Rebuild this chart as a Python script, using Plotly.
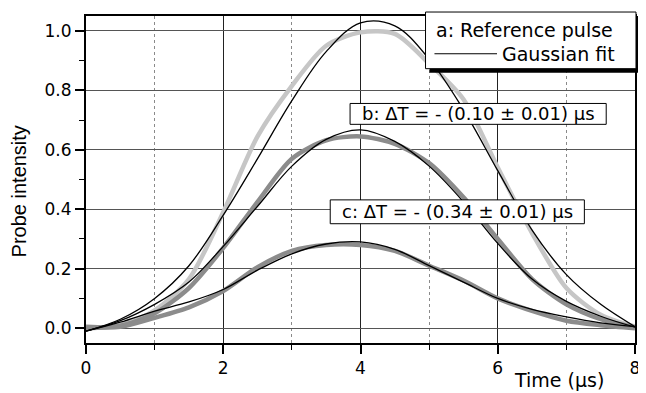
import plotly.graph_objects as go

# ---- data ----
time_us = [0, 0.5, 1.0, 1.5, 2.0, 2.5, 3.0, 3.5, 4.0, 4.5, 5.0, 5.5, 6.0, 6.5, 7.0, 7.5, 8.0]

pulse_a = [0.0, 0.01, 0.06, 0.165, 0.39, 0.645, 0.815, 0.95, 0.995, 0.99, 0.89, 0.77, 0.54, 0.32, 0.135, 0.045, 0.005]
pulse_b = [0.0, 0.008, 0.05, 0.135, 0.27, 0.425, 0.57, 0.632, 0.645, 0.62, 0.555, 0.44, 0.30, 0.165, 0.08, 0.03, 0.003]
pulse_c = [0.005, 0.005, 0.035, 0.07, 0.125, 0.205, 0.26, 0.28, 0.28, 0.26, 0.21, 0.16, 0.10, 0.058, 0.025, 0.01, 0.0]

fit_a = [-0.01, 0.03, 0.10, 0.21, 0.38, 0.57, 0.765, 0.93, 1.027, 1.017, 0.905, 0.735, 0.53, 0.33, 0.18, 0.08, 0.005]
fit_b = [-0.01, 0.025, 0.08, 0.155, 0.275, 0.41, 0.545, 0.635, 0.667, 0.628, 0.545, 0.425, 0.285, 0.165, 0.09, 0.04, 0.003]
fit_c = [-0.01, 0.02, 0.057, 0.088, 0.13, 0.195, 0.25, 0.283, 0.29, 0.265, 0.21, 0.155, 0.10, 0.063, 0.038, 0.018, 0.005]

x_ticks = [0, 2, 4, 6, 8]
y_ticks = [0.0, 0.2, 0.4, 0.6, 0.8, 1.0]
y_tick_text = ["0.0", "0.2", "0.4", "0.6", "0.8", "1.0"]

legend_a = "a: Reference pulse"
legend_fit = "Gaussian fit"
label_b = "b: \u0394T = - (0.10 \u00b1 0.01) \u03bcs"
label_c = "c: \u0394T = - (0.34 \u00b1 0.01) \u03bcs"
x_title = "Time (\u03bcs)"
y_title = "Probe intensity"

# ---- geometry: page pixels; the page body adds an 8px margin ----
OFF = 8
W, H = 646 - OFF, 393 - OFF
L, R, T, B = 86, 639, 14, 343   # plot area in page pixels


def px(x):
    return (x - L) / (R - L)


def py(y):
    return (B - y) / (B - T)


fig = go.Figure()

for ys, col in [(pulse_a, "#c6c6c6"), (pulse_b, "#8c8c8c"), (pulse_c, "#8c8c8c")]:
    fig.add_trace(go.Scatter(x=time_us, y=ys, mode="lines",
                             line=dict(color=col, width=4.5, shape="spline", smoothing=0.8),
                             showlegend=False, hoverinfo="skip"))

for ys in [fit_a, fit_b, fit_c]:
    fig.add_trace(go.Scatter(x=time_us, y=ys, mode="lines",
                             line=dict(color="black", width=1.3, shape="spline", smoothing=1.0),
                             showlegend=False, hoverinfo="skip"))

tickfont = dict(family="DejaVu Sans", size=17, color="black")

fig.update_xaxes(range=[0, 8], tickvals=x_ticks, ticktext=[str(v) for v in x_ticks],
                 ticks="outside", ticklen=9, tickwidth=1.5, tickcolor="black",
                 showline=True, linewidth=2, linecolor="black", mirror=True,
                 showgrid=True, gridcolor="#222222", gridwidth=1.2,
                 zeroline=False, tickfont=tickfont,
                 minor=dict(dtick=1, tick0=1, ticks="outside", ticklen=5, tickwidth=1.2,
                            tickcolor="black", showgrid=True, gridcolor="#8a8a8a",
                            griddash="dot", gridwidth=1))

fig.update_yaxes(range=[-0.05, 1.05], tickvals=y_ticks, ticktext=y_tick_text,
                 ticks="outside", ticklen=9, tickwidth=1.5, tickcolor="black",
                 showline=True, linewidth=2, linecolor="black", mirror=True,
                 showgrid=True, gridcolor="#555555", gridwidth=1,
                 zeroline=False, tickfont=tickfont,
                 minor=dict(tickvals=[0.1, 0.3, 0.5, 0.7, 0.9], ticks="outside", ticklen=5,
                            tickwidth=1.2, tickcolor="black", showgrid=False))

shapes = []
shapes.append(dict(type="rect", xref="paper", yref="paper",
                   x0=px(432), x1=px(644), y0=py(71), y1=py(14),
                   fillcolor="black", line=dict(width=0), layer="above"))
shapes.append(dict(type="rect", xref="paper", yref="paper",
                   x0=px(428), x1=px(640), y0=py(67), y1=py(10),
                   fillcolor="white", line=dict(color="black", width=1), layer="above"))
shapes.append(dict(type="line", xref="paper", yref="paper",
                   x0=px(437), x1=px(500), y0=py(52), y1=py(52),
                   line=dict(color="black", width=1.2), layer="above"))
shapes.append(dict(type="rect", xref="paper", yref="paper",
                   x0=px(352), x1=px(610), y0=py(123), y1=py(102),
                   fillcolor="white", line=dict(color="black", width=1), layer="above"))
shapes.append(dict(type="rect", xref="paper", yref="paper",
                   x0=px(332), x1=px(588), y0=py(223), y1=py(199),
                   fillcolor="white", line=dict(color="black", width=1), layer="above"))

boxfont = dict(family="DejaVu Sans", size=18, color="black")
legfont = dict(family="DejaVu Sans", size=19, color="black")

annotations = [
    dict(text=legend_a, x=px(437), y=py(28), xanchor="left", yanchor="middle", font=legfont),
    dict(text=legend_fit, x=px(503), y=py(52), xanchor="left", yanchor="middle", font=legfont),
    dict(text=label_b, x=px(481), y=py(112.5), xanchor="center", yanchor="middle", font=boxfont),
    dict(text=label_c, x=px(460), y=py(211), xanchor="center", yanchor="middle", font=boxfont),
    dict(text=x_title, x=px(562), y=py(380), xanchor="center", yanchor="middle",
         font=dict(family="DejaVu Sans", size=19, color="black")),
    dict(text=y_title, x=px(18), y=py(190), xanchor="center", yanchor="middle", textangle=-90,
         font=dict(family="Liberation Sans", size=20, color="black")),
]
for a in annotations:
    a.update(xref="paper", yref="paper", showarrow=False)

fig.update_layout(width=W, height=H,
                  margin=dict(l=L - OFF, r=646 - R, t=T - OFF, b=393 - B),
                  paper_bgcolor="white", plot_bgcolor="white",
                  shapes=shapes, annotations=annotations)

fig.write_html("out.html")
